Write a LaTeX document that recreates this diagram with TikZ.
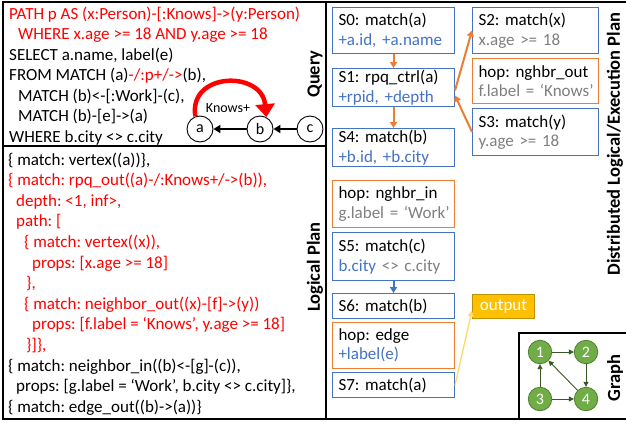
\documentclass[tikz,border=0pt]{standalone}
\usepackage{fontspec}
\setmainfont{Carlito}
\usetikzlibrary{arrows.meta,calc}
\definecolor{cred}{HTML}{FF0000}
\definecolor{cblue}{HTML}{4472C4}
\definecolor{cgray}{HTML}{7F7F7F}
\definecolor{corange}{HTML}{ED7D31}
\definecolor{cgold}{HTML}{FFC000}
\definecolor{cgoldd}{HTML}{BF9000}
\definecolor{cyel}{HTML}{FFD966}
\definecolor{cgreen}{HTML}{70AD47}
\definecolor{cgreend}{HTML}{507E32}
\definecolor{cgreene}{HTML}{385723}
\begin{document}
\frenchspacing
\begin{tikzpicture}[x=1pt,y=-1pt,
  txt/.style={anchor=base west, inner sep=0pt, font=\fontsize{17}{20}\selectfont\frenchspacing},
  frame/.style={line width=2pt, black},
  side/.style={rotate=90, inner sep=0pt, font=\fontsize{18.5}{18.5}\selectfont\bfseries},
  qnode/.style={circle, draw=black, line width=0.9pt, fill=white, minimum size=26, inner sep=0pt, font=\fontsize{16}{16}\selectfont},
  qarrow/.style={line width=2pt, -{Triangle[length=7pt,width=8pt]}},
  boxbase/.style={anchor=north west, line width=1pt, align=left, inner xsep=6pt, inner ysep=0pt, font=\fontsize{17}{19.5}\selectfont\frenchspacing},
  bbox/.style={boxbase, draw=cblue},
  obox/.style={boxbase, draw=corange},
  lw/.style={text width=110pt},
  rw/.style={text width=114pt},
  oarrow/.style={corange, line width=2pt, -{Triangle[length=6pt,width=7pt]}},
  barrow/.style={cblue, line width=2pt, -{Triangle[length=6pt,width=7pt]}},
  gnode/.style={circle, draw=cgreend, line width=0.8pt, fill=cgreen, minimum size=23.5, inner sep=0pt, text=white, font=\fontsize{16}{16}\selectfont},
  garrow/.style={cgreene, line width=0.9pt, -{Triangle[length=5pt,width=5pt]}}
]
\useasboundingbox (0,0) rectangle (626,423);
\fill[white] (0,0) rectangle (626,423);

% frames
\draw[frame] (3,2) rectangle (326,418.5);
\draw[frame] (3,146) -- (326,146);
\draw[frame] (326,2) -- (626,2);
\draw[frame] (326,418.5) -- (626,418.5);
\draw[line width=1.5pt] (519,418.5) -- (519,333) -- (626,333);

% Query text
\node[txt,text=cred] (q1) at (9,19) {PATH p AS (x:Person)-[:Knows]->(y:Person)};
\node[txt,text=cred] (q2) at (18,39.5) {WHERE x.age >= 18 AND y.age >= 18};
\node[txt] (q3) at (9,60) {SELECT a.name, label(e)};
\node[txt] (q4) at (9,80.5) {FROM MATCH (a)\textcolor{cred}{-/:p+/->}(b),};
\node[txt] (q5) at (18,101) {MATCH (b)<-[:Work]-(c),};
\node[txt] (q6) at (18,121.5) {MATCH (b)-[e]->(a)};
\node[txt] (q7) at (9,142) {WHERE b.city <> c.city};

% query graph
\node[qnode] (a) at (200,129) {a};
\node[qnode] (b) at (260,129) {b};
\node[qnode] (c) at (310,129) {c};
\draw[qarrow] (c) -- (b);
\draw[qarrow] (b) -- (a);
\draw[cred, line width=4.5pt, -{Triangle[length=13pt,width=19pt]}] (a.110) .. controls (188,72) and (262,70) .. (b.62);
\node[inner sep=0pt, font=\fontsize{14}{14}\selectfont] (kl) at (228,108) {Knows+};

\node[side] (lq) at (315,74) {Query};

% Logical plan text
\node[txt] (l1) at (8,165) {\{ match: vertex((a))\},};
\node[txt,text=cred] (l2) at (8,185.6) {\{ match: rpq\_out((a)-/:Knows+/->(b)),};
\node[txt,text=cred] (l3) at (16,206.2) {depth: <1, inf>,};
\node[txt,text=cred] (l4) at (16,226.8) {path: [};
\node[txt,text=cred] (l5) at (24,247.4) {\{ match: vertex((x)),};
\node[txt,text=cred] (l6) at (32,268) {props: [x.age >= 18]};
\node[txt,text=cred] (l7) at (26,288.6) {\},};
\node[txt,text=cred] (l8) at (24,309.2) {\{ match: neighbor\_out((x)-[f]->(y))};
\node[txt,text=cred] (l9) at (32,329.8) {props: [f.label = ‘Knows’, y.age >= 18]};
\node[txt,text=cred] (l10) at (26,350.4) {\}]\},};
\node[txt] (l11) at (8,371) {\{ match: neighbor\_in((b)<-[g]-(c)),};
\node[txt] (l12) at (16,391.6) {props: [g.label = ‘Work’, b.city <> c.city]\},};
\node[txt] (l13) at (8,412.2) {\{ match: edge\_out((b)->(a))\}};

\node[side] (ll) at (315,267) {Logical Plan};

% execution plan boxes
\node[bbox, lw, minimum height=46] (s0) at (332,7) {\mbox{S0: match(a)}\\\mbox{\textcolor{cblue}{+a.id, +a.name}}};
\node[bbox, lw, minimum height=38] (s1) at (332,68) {\mbox{S1: rpq\_ctrl(a)}\\\mbox{\textcolor{cblue}{+rpid, +depth}}};
\node[bbox, lw, minimum height=38] (s4) at (332,128) {\mbox{S4: match(b)}\\\mbox{\textcolor{cblue}{+b.id, +b.city}}};
\node[obox, lw, minimum height=47] (hin) at (332,180) {\mbox{hop: nghbr\_in}\\\mbox{\textcolor{cgray}{g.label = ‘Work’}}};
\node[bbox, lw, minimum height=48] (s5) at (332,232) {\mbox{S5: match(c)}\\\mbox{\textcolor{cblue}{b.city} \textcolor{cgray}{<> c.city}}};
\node[bbox, lw, minimum height=25] (s6) at (332,293) {\mbox{S6: match(b)}};
\node[obox, lw, minimum height=46] (hedge) at (332,322) {\mbox{hop: edge}\\\mbox{\textcolor{cblue}{+label(e)}}};
\node[bbox, lw, minimum height=25] (s7) at (332,372) {\mbox{S7: match(a)}};

\node[bbox, rw, minimum height=46] (s2) at (472,7) {\mbox{S2: match(x)}\\\mbox{\textcolor{cgray}{x.age >= 18}}};
\node[obox, rw, minimum height=45] (hout) at (472,58) {\mbox{hop: nghbr\_out}\\\mbox{\textcolor{cgray}{f.label = ‘Knows’}}};
\node[bbox, rw, minimum height=47] (s3) at (472,108) {\mbox{S3: match(y)}\\\mbox{\textcolor{cgray}{y.age >= 18}}};

\node[anchor=north west, draw=cgoldd, line width=1pt, fill=cgold, minimum width=62, minimum height=24, inner sep=0pt, text=white, font=\fontsize{17}{17}\selectfont] (out) at (472,294) {output};

\draw[oarrow] (s0.south) -- (s1.north);
\draw[oarrow] (s1.south) -- (s4.north);
\draw[barrow] (s5.south) -- (s6.north);
\draw[oarrow] ([yshift=-3pt]s1.east) -- (s2.west);
\draw[oarrow] (s3.west) -- ([yshift=-8pt]s1.east);
\draw[cyel, line width=1.3pt, -{Triangle[length=6pt,width=6pt]}] (s7.east) -- ([yshift=-4pt]out.west);

\node[side] (ld) at (615,144) {Distributed Logical/Execution Plan};

% data graph
\node[gnode] (g1) at (540,352) {1};
\node[gnode] (g2) at (586,352) {2};
\node[gnode] (g3) at (540,399) {3};
\node[gnode] (g4) at (586,399) {4};
\draw[garrow] (g1) -- (g2);
\draw[garrow] (g2) -- (g4);
\draw[garrow] (g3) -- (g1);
\draw[garrow] (g3) -- (g4);
\draw[garrow] (g4) -- (g1);

\node[side] (lg) at (615,378) {Graph};
\end{tikzpicture}
\end{document}
